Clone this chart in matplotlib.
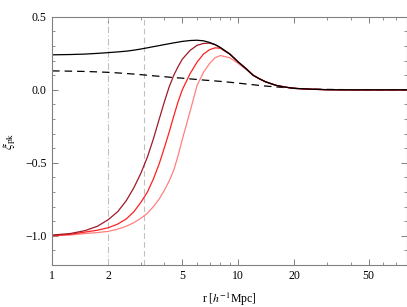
import matplotlib
matplotlib.use("Agg")
import matplotlib.pyplot as plt
from matplotlib.ticker import FixedLocator, NullFormatter

plt.rcParams['font.family'] = ['Liberation Serif', 'DejaVu Serif']
plt.rcParams['mathtext.fontset'] = 'stix'

# radii (h^-1 Mpc)
r = [1, 1.25, 1.5, 1.75, 2, 2.25, 2.5, 2.75, 3, 3.25, 3.5, 3.75, 4, 4.25, 4.5,
     4.75, 5, 5.5, 6, 6.5, 7, 7.5, 8, 9, 10, 11, 12, 13, 14, 16, 18, 20, 25,
     30, 40, 50, 60, 80]

xi_total = [0.24, 0.242, 0.245, 0.25, 0.255, 0.26, 0.265, 0.272, 0.28, 0.288,
            0.296, 0.303, 0.31, 0.316, 0.322, 0.327, 0.332, 0.338, 0.34, 0.336,
            0.325, 0.31, 0.29, 0.245, 0.19, 0.145, 0.10, 0.075, 0.055, 0.03,
            0.018, 0.01, 0.004, 0.001, 0.0, 0.0, 0.0, 0.0]

xi_linear = [0.13, 0.128, 0.126, 0.123, 0.12, 0.116, 0.112, 0.108, 0.104, 0.1,
             0.096, 0.093, 0.09, 0.087, 0.084, 0.082, 0.08, 0.075, 0.071, 0.067,
             0.064, 0.061, 0.058, 0.052, 0.046, 0.04, 0.035, 0.03, 0.026, 0.02,
             0.015, 0.011, 0.005, 0.003, 0.001, 0.0, 0.0, 0.0]

xi_void1 = [-0.995, -0.985, -0.965, -0.935, -0.89, -0.835, -0.76, -0.67, -0.57,
            -0.46, -0.335, -0.205, -0.085, 0.02, 0.10, 0.16, 0.21, 0.27, 0.305,
            0.318, 0.32, 0.31, 0.29, 0.245, 0.19, 0.145, 0.10, 0.075, 0.055,
            0.03, 0.018, 0.01, 0.004, 0.001, 0.0, 0.0, 0.0, 0.0]

xi_void2 = [-1.0, -0.99, -0.975, -0.962, -0.945, -0.92, -0.885, -0.835, -0.77,
            -0.70, -0.61, -0.51, -0.40, -0.29, -0.18, -0.08, 0.0, 0.11, 0.19,
            0.245, 0.275, 0.288, 0.285, 0.245, 0.19, 0.145, 0.10, 0.075, 0.055,
            0.03, 0.018, 0.01, 0.004, 0.001, 0.0, 0.0, 0.0, 0.0]

xi_void3 = [-1.0, -0.995, -0.985, -0.978, -0.97, -0.955, -0.935, -0.91, -0.88,
            -0.845, -0.80, -0.75, -0.69, -0.625, -0.55, -0.45, -0.34, -0.15,
            0.03, 0.12, 0.18, 0.22, 0.235, 0.22, 0.18, 0.14, 0.10, 0.075,
            0.055, 0.03, 0.018, 0.01, 0.004, 0.001, 0.0, 0.0, 0.0, 0.0]

x_ticks = [1, 2, 5, 10, 20, 50]
x_ticklabels = ['1', '2', '5', '10', '20', '50']
y_ticks = [-1.0, -0.5, 0.0, 0.5]
y_ticklabels = ['\u22121.0', '\u22120.5', '0.0', '0.5']
vlines = [2.0, 3.13]

fig = plt.figure(figsize=(4.07, 3.07), dpi=100)
ax = fig.add_axes([0.128, 0.137, 0.871, 0.808])

ax.axvline(vlines[0], color='#c0c0c0', lw=0.8, ls=(0, (6, 2, 1, 2)))
ax.axvline(vlines[1], color='#c0c0c0', lw=0.8, ls=(0, (5, 3)))

ax.plot(r, xi_linear, color='black', lw=0.9, ls=(0, (6, 4)))
ax.plot(r, xi_void3, color='#ff8080', lw=0.9)
ax.plot(r, xi_void2, color='#ff2020', lw=0.9)
ax.plot(r, xi_void1, color='#a01828', lw=0.9)
ax.plot(r, xi_total, color='black', lw=0.9)

ax.set_xscale('log')
ax.set_xlim(1, 80)
ax.set_ylim(-1.2, 0.5)

ax.xaxis.set_major_locator(FixedLocator(x_ticks))
ax.set_xticklabels(x_ticklabels)
minor_x = [3, 4, 6, 7, 8, 9, 30, 40, 60, 70]
ax.xaxis.set_minor_locator(FixedLocator(minor_x))
ax.xaxis.set_minor_formatter(NullFormatter())
ax.yaxis.set_major_locator(FixedLocator(y_ticks))
ax.set_yticklabels(y_ticklabels)
ax.yaxis.set_minor_locator(FixedLocator([-1.2 + 0.1 * i for i in range(18)]))

for s in ax.spines.values():
    s.set_color('#808080')
    s.set_linewidth(0.8)
ax.tick_params(which='both', direction='in', top=True, right=True,
               color='#808080', labelsize=8.5, pad=4)
ax.tick_params(which='major', length=4.5, width=0.7)
ax.tick_params(which='minor', length=2.5, width=0.6)

ax.set_xlabel(r'r [$h^{-1}$Mpc]', fontsize=8.5, labelpad=6)
ax.set_ylabel(r'$\xi_{\rm pk}$', fontsize=9.5, labelpad=5)

fig.savefig('out.png', dpi=100)
